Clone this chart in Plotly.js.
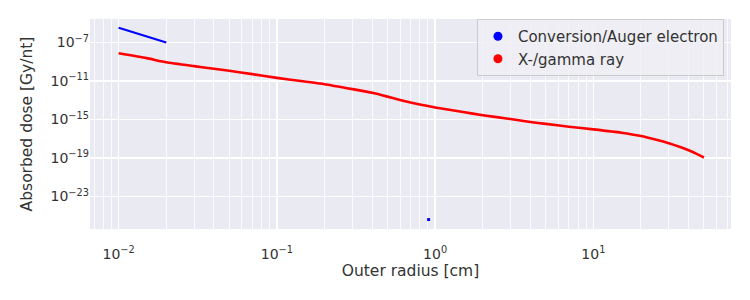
<!DOCTYPE html>
<html>
<head>
<meta charset="utf-8">
<script src="https://cdn.plot.ly/plotly-3.0.1.min.js"></script>
<style>html,body{margin:0;padding:0;background:#fff;}#chart{width:750px;height:300px;}</style>
</head>
<body>
<div id="chart"></div>
<script>
// Conversion/Auger electron (line segment)
const electronX = [0.01, 0.0125, 0.015, 0.0175, 0.02];
const electronY = [3.5e-6, 1.1e-6, 4.4e-7, 2.0e-7, 1.0e-7];
// Conversion/Auger electron (isolated point)
const electronDotX = [0.91];
const electronDotY = [4.0e-26];
// X-/gamma ray
const gammaX = [0.01, 0.015, 0.02, 0.03, 0.04, 0.05, 0.07, 0.1, 0.15, 0.2, 0.3, 0.4, 0.5, 0.6, 0.7, 0.8, 0.9, 1, 1.5, 2, 3, 4, 5, 7, 10, 15, 20, 25, 30, 35, 40, 45, 50];
const gammaY = [7.6e-9, 2.4e-9, 8.9e-10, 3.55e-10, 1.9e-10, 1.17e-10, 5.2e-11, 2.14e-11, 8.9e-12, 4.7e-12, 1.45e-12, 6.0e-13, 2.4e-13, 1.07e-13, 5.75e-14, 3.6e-14, 2.5e-14, 1.8e-14, 6.0e-15, 2.8e-15, 1.12e-15, 5.6e-16, 3.55e-16, 1.8e-16, 9.5e-17, 4.3e-17, 1.95e-17, 7.9e-18, 3.4e-18, 1.45e-18, 6.3e-19, 2.7e-19, 1.12e-19];
const xTickVals = [0.01, 0.1, 1, 10];
const xTickText = ['10<sup>−2</sup>', '10<sup>−1</sup>', '10<sup>0</sup>', '10<sup>1</sup>'];
const yTickVals = [1e-23, 1e-19, 1e-15, 1e-11, 1e-7];
const yTickText = ['10<sup>−23</sup>', '10<sup>−19</sup>', '10<sup>−15</sup>', '10<sup>−11</sup>', '10<sup>−7</sup>'];
const seriesNames = ['Conversion/Auger electron', 'X-/gamma ray'];

const BLUE = '#0000ff', RED = '#ff0000';
const FONT = 'DejaVu Sans, sans-serif';
const TXT = '#333333';

const xMinor = [];
for (let e = -3; e <= 1; e++) for (let m = 2; m <= 9; m++) xMinor.push(m * Math.pow(10, e));

const traces = [
  {x: electronX, y: electronY, mode: 'lines', line: {color: BLUE, width: 2}, showlegend: false, hoverinfo: 'skip'},
  {x: electronDotX, y: electronDotY, mode: 'markers', marker: {color: BLUE, size: 3, symbol: 'square'}, showlegend: false, hoverinfo: 'skip'},
  {x: gammaX, y: gammaY, mode: 'lines', line: {color: RED, width: 2.6, shape: 'spline', smoothing: 0.5}, showlegend: false, hoverinfo: 'skip'},
  {x: [null], y: [null], mode: 'markers', name: seriesNames[0], marker: {color: BLUE, size: 9}, legendgroup: 'a'},
  {x: [null], y: [null], mode: 'markers', name: seriesNames[1], marker: {color: RED, size: 9}, legendgroup: 'b'}
];

const layout = {
  width: 750, height: 300,
  margin: {l: 90, r: 19, t: 19, b: 71, pad: 0},
  paper_bgcolor: '#ffffff',
  plot_bgcolor: '#eaeaf2',
  font: {family: FONT, color: TXT, size: 14},
  showlegend: true,
  legend: {
    x: 0.989, xanchor: 'right', y: 1.0, yanchor: 'top',
    bgcolor: 'rgba(238,238,244,0.85)', bordercolor: '#cccccc', borderwidth: 1,
    font: {family: FONT, size: 15, color: TXT},
    traceorder: 'grouped', tracegroupgap: 0
  },
  xaxis: {
    type: 'log', range: [-2.181, 1.870],
    tickmode: 'array', tickvals: xTickVals, ticktext: xTickText,
    ticks: 'outside', ticklen: 12, tickcolor: 'rgba(0,0,0,0)',
    showgrid: true, gridcolor: '#ffffff', gridwidth: 1.3,
    minor: {tickmode: 'array', tickvals: xMinor, showgrid: true, gridcolor: '#ffffff', gridwidth: 0.8, ticks: ''},
    zeroline: false, showline: false,
    tickfont: {size: 14, color: TXT},
    title: {text: 'Outer radius [cm]', font: {size: 15.5, color: TXT}, standoff: 4}
  },
  yaxis: {
    type: 'log', range: [-26.38, -4.55],
    tickmode: 'array', tickvals: yTickVals, ticktext: yTickText,
    ticks: '',
    showgrid: true, gridcolor: '#ffffff', gridwidth: 1.3,
    zeroline: false, showline: false,
    tickfont: {size: 14, color: TXT},
    title: {text: 'Absorbed dose [Gy/nt]', font: {size: 15.5, color: TXT}, standoff: 14}
  }
};

Plotly.newPlot('chart', traces, layout, {staticPlot: true, displayModeBar: false});
</script>
</body>
</html>
